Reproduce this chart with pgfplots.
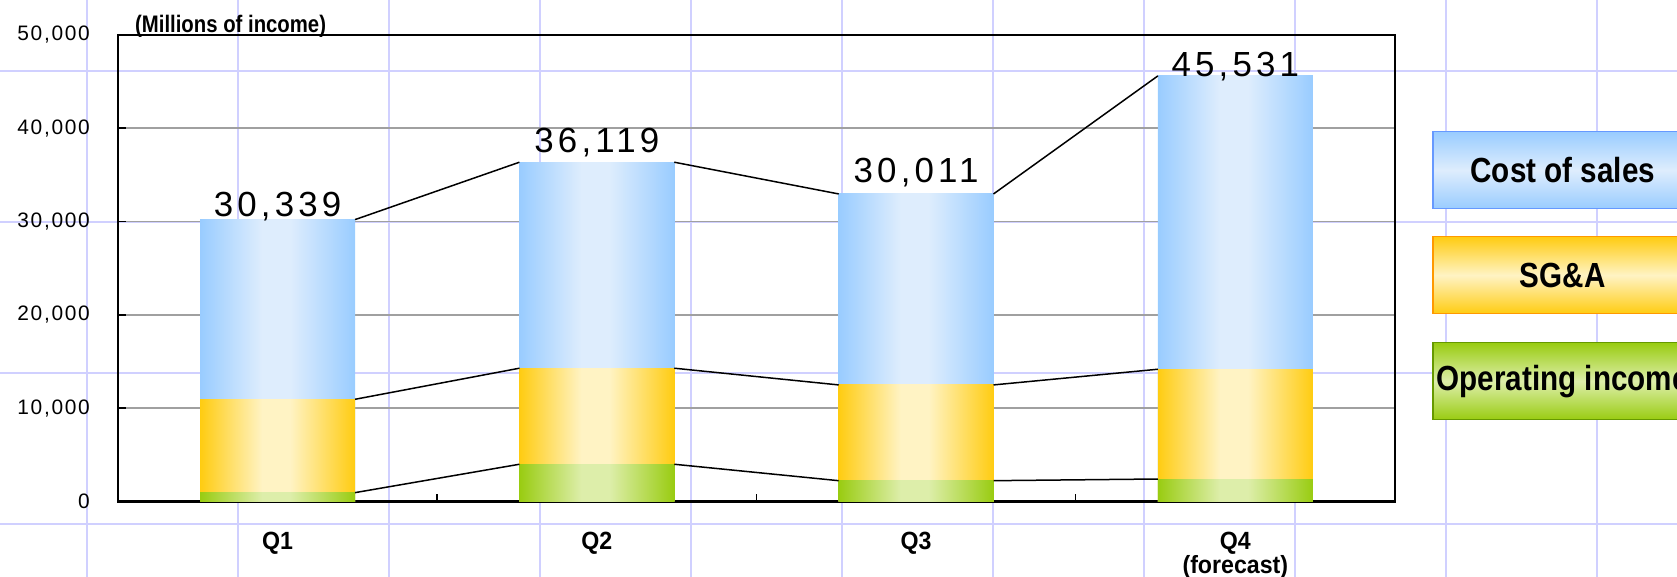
\documentclass[border=0pt]{standalone}
\usepackage{pgfplots}
\pgfplotsset{compat=1.18}
\usepackage{fontspec}
\setmainfont{Liberation Sans}
\newfontfamily\numfont{Liberation Sans}[LetterSpace=8]
\newfontfamily\bignum{Liberation Sans}[LetterSpace=12]
\newfontfamily\gfont{Liberation Sans}[FakeStretch=0.85]
\newfontfamily\qfont{Liberation Sans}[FakeStretch=0.93]

\definecolor{gridpurple}{RGB}{208,208,255}
\definecolor{bluedark}{RGB}{153,204,255}
\definecolor{bluelight}{RGB}{222,237,253}
\definecolor{yeldark}{RGB}{255,204,17}
\definecolor{yellight}{RGB}{255,243,196}
\definecolor{greendark}{RGB}{153,204,17}
\definecolor{greenlight}{RGB}{221,238,170}
\definecolor{gridgray}{RGB}{160,160,160}
\definecolor{blueborder}{RGB}{102,153,255}
\definecolor{yelborder}{RGB}{255,153,0}
\definecolor{greenborder}{RGB}{102,153,0}

\pgfdeclarehorizontalshading{barblue}{100bp}{color(0bp)=(bluedark); color(25bp)=(bluedark); color(45bp)=(bluelight); color(54bp)=(bluelight); color(75bp)=(bluedark); color(100bp)=(bluedark)}
\pgfdeclarehorizontalshading{baryel}{100bp}{color(0bp)=(yeldark); color(25bp)=(yeldark); color(45bp)=(yellight); color(54bp)=(yellight); color(75bp)=(yeldark); color(100bp)=(yeldark)}
\pgfdeclarehorizontalshading{bargreen}{100bp}{color(0bp)=(greendark); color(25bp)=(greendark); color(45bp)=(greenlight); color(54bp)=(greenlight); color(75bp)=(greendark); color(100bp)=(greendark)}

\pgfplotsset{
  costbar/.style={ybar, bar width=155bp, bar shift=0pt, draw=none, shade, shading=barblue},
  sgabar/.style={ybar, bar width=155bp, bar shift=0pt, draw=none, shade, shading=baryel},
  oibar/.style={ybar, bar width=155bp, bar shift=0pt, draw=none, shade, shading=bargreen},
  serline/.style={black, line width=1.5bp, mark=none},
}

\begin{document}
\begin{tikzpicture}
\useasboundingbox (0bp,0bp) rectangle (1677bp,577bp);
% spreadsheet background grid
\foreach \x in {87,238,...,1597} \draw[gridpurple, line width=2bp] (\x bp,0bp) -- (\x bp,577bp);
\foreach \y in {53,204,355,506} \draw[gridpurple, line width=2bp] (0bp,\y bp) -- (1677bp,\y bp);

\begin{axis}[
  at={(118bp,75.5bp)}, anchor=south west,
  scale only axis, width=1277bp, height=466.7bp,
  xmin=-0.5, xmax=3.5, ymin=0, ymax=50000,
  scaled y ticks=false,
  axis line style={black, line width=2bp},
  tick pos=left, tick align=inside,
  major tick length=8bp,
  every tick/.style={black, line width=1.5bp},
  ymajorgrids, major grid style={gridgray, line width=1.5bp},
  ytick={0,10000,20000,30000,40000,50000},
  yticklabels={0,{10,000},{20,000},{30,000},{40,000},{50,000}},
  yticklabel style={font=\numfont\fontsize{21}{25}\selectfont, anchor=east, inner sep=0pt, xshift=-28bp},
  xtick={0.5,1.5,2.5}, xticklabels={{},{},{}},
  extra x ticks={0,1,2,3},
  extra x tick labels={Q1,Q2,Q3,{Q4\\(forecast)}},
  extra x tick style={major tick length=0pt,
    xticklabel style={font=\qfont\bfseries\fontsize{25}{24}\selectfont, align=center, anchor=north, inner sep=0pt, yshift=-30bp}},
  clip=false,
]
% cumulative tops: cost of sales (total), SG&A, operating income
\addplot[costbar] coordinates {(0,30200)};
\addplot[costbar] coordinates {(1,36350)};
\addplot[costbar] coordinates {(2,32950)};
\addplot[costbar] coordinates {(3,45600)};
\addplot[sgabar] coordinates {(0,10950)};
\addplot[sgabar] coordinates {(1,14280)};
\addplot[sgabar] coordinates {(2,12490)};
\addplot[sgabar] coordinates {(3,14170)};
\addplot[oibar] coordinates {(0,950)};
\addplot[oibar] coordinates {(1,3990)};
\addplot[oibar] coordinates {(2,2230)};
\addplot[oibar] coordinates {(3,2410)};
% series lines
\addplot[serline] coordinates {(0.2425,30200) (0.7575,36350)};
\addplot[serline] coordinates {(1.2425,36350) (1.7575,32950)};
\addplot[serline] coordinates {(2.2425,32950) (2.7575,45600)};
\addplot[serline] coordinates {(0.2425,10950) (0.7575,14280)};
\addplot[serline] coordinates {(1.2425,14280) (1.7575,12490)};
\addplot[serline] coordinates {(2.2425,12490) (2.7575,14170)};
\addplot[serline] coordinates {(0.2425,950) (0.7575,3990)};
\addplot[serline] coordinates {(1.2425,3990) (1.7575,2230)};
\addplot[serline] coordinates {(2.2425,2230) (2.7575,2410)};
% total labels
\node[anchor=base, inner sep=0pt, font=\bignum\fontsize{35}{40}\selectfont] at (axis cs:0,30493) {30,339};
\node[anchor=base, inner sep=0pt, font=\bignum\fontsize{35}{40}\selectfont] at (axis cs:1,37353) {36,119};
\node[anchor=base, inner sep=0pt, font=\bignum\fontsize{35}{40}\selectfont] at (axis cs:2,34137) {30,011};
\node[anchor=base, inner sep=0pt, font=\bignum\fontsize{35}{40}\selectfont] at (axis cs:3,45498) {45,531};
\end{axis}

% unit label
\node[anchor=base west, inner sep=0pt, font=\gfont\bfseries\fontsize{24}{28}\selectfont] at (135bp,544bp) {(Millions of income)};

% legend boxes
\node[draw=blueborder, line width=1.5bp, top color=bluedark, bottom color=bluedark, middle color=bluelight,
  minimum width=260bp, minimum height=77bp, inner sep=0pt, anchor=north west,
  font=\gfont\bfseries\fontsize{35}{40}\selectfont] at (1432bp,446bp) {Cost of sales};
\node[draw=yelborder, line width=1.5bp, top color=yeldark, bottom color=yeldark, middle color=yellight,
  minimum width=260bp, minimum height=77bp, inner sep=0pt, anchor=north west,
  font=\gfont\bfseries\fontsize{35}{40}\selectfont] at (1432bp,341bp) {SG\&A};
\node[draw=greenborder, line width=1.5bp, top color=greendark, bottom color=greendark, middle color=greenlight,
  minimum width=260bp, minimum height=77bp, inner sep=0pt, anchor=north west,
  font=\gfont\bfseries\fontsize{35}{40}\selectfont] at (1432bp,235bp) {Operating income};
\end{tikzpicture}
\end{document}
